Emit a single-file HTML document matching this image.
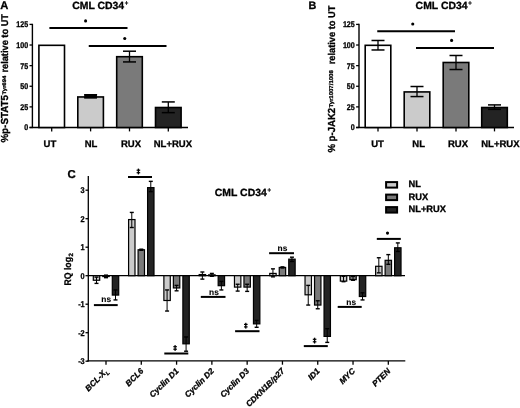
<!DOCTYPE html>
<html><head><meta charset="utf-8"><style>
html,body{margin:0;padding:0;background:#fff;}
svg{display:block;will-change:transform;}
text{font-family:"Liberation Sans", sans-serif;fill:#000;stroke:#000;stroke-width:0.3px;text-rendering:geometricPrecision;}
</style></head><body>
<svg width="520" height="408" viewBox="0 0 520 408">
<rect width="520" height="408" fill="#fff"/>
<line x1="32.40" y1="23.80" x2="32.40" y2="128.10" stroke="#000" stroke-width="1.4"/>
<line x1="29.50" y1="127.50" x2="32.40" y2="127.50" stroke="#000" stroke-width="1.3"/>
<text transform="translate(28.20,130.37) scale(0.86,1)" font-size="8.3" font-weight="bold" text-anchor="end">0</text>
<line x1="29.50" y1="106.88" x2="32.40" y2="106.88" stroke="#000" stroke-width="1.3"/>
<text transform="translate(28.20,109.75) scale(0.86,1)" font-size="8.3" font-weight="bold" text-anchor="end">25</text>
<line x1="29.50" y1="86.26" x2="32.40" y2="86.26" stroke="#000" stroke-width="1.3"/>
<text transform="translate(28.20,89.13) scale(0.86,1)" font-size="8.3" font-weight="bold" text-anchor="end">50</text>
<line x1="29.50" y1="65.64" x2="32.40" y2="65.64" stroke="#000" stroke-width="1.3"/>
<text transform="translate(28.20,68.51) scale(0.86,1)" font-size="8.3" font-weight="bold" text-anchor="end">75</text>
<line x1="29.50" y1="45.02" x2="32.40" y2="45.02" stroke="#000" stroke-width="1.3"/>
<text transform="translate(28.20,47.89) scale(0.86,1)" font-size="8.3" font-weight="bold" text-anchor="end">100</text>
<line x1="29.50" y1="24.40" x2="32.40" y2="24.40" stroke="#000" stroke-width="1.3"/>
<text transform="translate(28.20,27.27) scale(0.86,1)" font-size="8.3" font-weight="bold" text-anchor="end">125</text>
<line x1="29.50" y1="127.50" x2="188.00" y2="127.50" stroke="#000" stroke-width="1.4"/>
<rect x="38.90" y="45.32" width="25.60" height="82.18" fill="#fff" stroke="#000" stroke-width="1.6"/>
<line x1="51.70" y1="127.50" x2="51.70" y2="131.40" stroke="#000" stroke-width="1.3"/>
<text x="49.90" y="146.50" font-size="9.5" font-weight="bold" text-anchor="middle" >UT</text>
<rect x="77.80" y="96.95" width="25.60" height="30.55" fill="#cbcbcb" stroke="#000" stroke-width="1.6"/>
<line x1="90.60" y1="127.50" x2="90.60" y2="131.40" stroke="#000" stroke-width="1.3"/>
<text x="91.00" y="146.50" font-size="9.5" font-weight="bold" text-anchor="middle" >NL</text>
<rect x="116.70" y="56.70" width="25.60" height="70.80" fill="#7a7a7a" stroke="#000" stroke-width="1.6"/>
<line x1="129.50" y1="127.50" x2="129.50" y2="131.40" stroke="#000" stroke-width="1.3"/>
<text x="131.00" y="146.50" font-size="9.5" font-weight="bold" text-anchor="middle" >RUX</text>
<rect x="155.50" y="107.51" width="25.60" height="19.99" fill="#232323" stroke="#000" stroke-width="1.6"/>
<line x1="168.30" y1="127.50" x2="168.30" y2="131.40" stroke="#000" stroke-width="1.3"/>
<text x="172.90" y="146.50" font-size="9.5" font-weight="bold" text-anchor="middle" >NL+RUX</text>
<line x1="90.60" y1="94.76" x2="90.60" y2="97.56" stroke="#000" stroke-width="1.3"/>
<line x1="84.10" y1="94.76" x2="97.10" y2="94.76" stroke="#000" stroke-width="1.5"/>
<line x1="84.10" y1="97.56" x2="97.10" y2="97.56" stroke="#000" stroke-width="1.5"/>
<line x1="129.50" y1="51.21" x2="129.50" y2="61.93" stroke="#000" stroke-width="1.3"/>
<line x1="123.00" y1="51.21" x2="136.00" y2="51.21" stroke="#000" stroke-width="1.5"/>
<line x1="123.00" y1="61.93" x2="136.00" y2="61.93" stroke="#000" stroke-width="1.5"/>
<line x1="168.30" y1="101.93" x2="168.30" y2="112.65" stroke="#000" stroke-width="1.3"/>
<line x1="161.80" y1="101.93" x2="174.80" y2="101.93" stroke="#000" stroke-width="1.5"/>
<line x1="161.80" y1="112.65" x2="174.80" y2="112.65" stroke="#000" stroke-width="1.5"/>
<line x1="49.40" y1="28.00" x2="127.50" y2="28.00" stroke="#000" stroke-width="2.0"/>
<circle cx="85.6" cy="20.9" r="1.55" fill="#000"/>
<line x1="88.75" y1="46.00" x2="166.50" y2="46.00" stroke="#000" stroke-width="2.0"/>
<circle cx="124.75" cy="38.5" r="1.55" fill="#000"/>
<rect x="84.30" y="94.90" width="12.60" height="3.60" fill="#000" stroke="#000" stroke-width="0"/>
<line x1="359.00" y1="23.80" x2="359.00" y2="128.10" stroke="#000" stroke-width="1.4"/>
<line x1="356.10" y1="127.50" x2="359.00" y2="127.50" stroke="#000" stroke-width="1.3"/>
<text transform="translate(354.80,130.37) scale(0.86,1)" font-size="8.3" font-weight="bold" text-anchor="end">0</text>
<line x1="356.10" y1="106.88" x2="359.00" y2="106.88" stroke="#000" stroke-width="1.3"/>
<text transform="translate(354.80,109.75) scale(0.86,1)" font-size="8.3" font-weight="bold" text-anchor="end">25</text>
<line x1="356.10" y1="86.26" x2="359.00" y2="86.26" stroke="#000" stroke-width="1.3"/>
<text transform="translate(354.80,89.13) scale(0.86,1)" font-size="8.3" font-weight="bold" text-anchor="end">50</text>
<line x1="356.10" y1="65.64" x2="359.00" y2="65.64" stroke="#000" stroke-width="1.3"/>
<text transform="translate(354.80,68.51) scale(0.86,1)" font-size="8.3" font-weight="bold" text-anchor="end">75</text>
<line x1="356.10" y1="45.02" x2="359.00" y2="45.02" stroke="#000" stroke-width="1.3"/>
<text transform="translate(354.80,47.89) scale(0.86,1)" font-size="8.3" font-weight="bold" text-anchor="end">100</text>
<line x1="356.10" y1="24.40" x2="359.00" y2="24.40" stroke="#000" stroke-width="1.3"/>
<text transform="translate(354.80,27.27) scale(0.86,1)" font-size="8.3" font-weight="bold" text-anchor="end">125</text>
<line x1="356.10" y1="127.50" x2="514.00" y2="127.50" stroke="#000" stroke-width="1.4"/>
<rect x="365.20" y="45.32" width="25.60" height="82.18" fill="#fff" stroke="#000" stroke-width="1.6"/>
<line x1="378.00" y1="127.50" x2="378.00" y2="131.40" stroke="#000" stroke-width="1.3"/>
<text x="377.50" y="146.50" font-size="9.5" font-weight="bold" text-anchor="middle" >UT</text>
<rect x="404.20" y="91.92" width="25.60" height="35.58" fill="#cbcbcb" stroke="#000" stroke-width="1.6"/>
<line x1="417.00" y1="127.50" x2="417.00" y2="131.40" stroke="#000" stroke-width="1.3"/>
<text x="418.70" y="146.50" font-size="9.5" font-weight="bold" text-anchor="middle" >NL</text>
<rect x="443.20" y="62.48" width="25.60" height="65.02" fill="#7a7a7a" stroke="#000" stroke-width="1.6"/>
<line x1="456.00" y1="127.50" x2="456.00" y2="131.40" stroke="#000" stroke-width="1.3"/>
<text x="458.00" y="146.50" font-size="9.5" font-weight="bold" text-anchor="middle" >RUX</text>
<rect x="481.70" y="107.51" width="25.60" height="19.99" fill="#232323" stroke="#000" stroke-width="1.6"/>
<line x1="494.50" y1="127.50" x2="494.50" y2="131.40" stroke="#000" stroke-width="1.3"/>
<text x="500.40" y="146.50" font-size="9.5" font-weight="bold" text-anchor="middle" >NL+RUX</text>
<line x1="378.00" y1="40.48" x2="378.00" y2="49.97" stroke="#000" stroke-width="1.3"/>
<line x1="371.50" y1="40.48" x2="384.50" y2="40.48" stroke="#000" stroke-width="1.5"/>
<line x1="371.50" y1="49.97" x2="384.50" y2="49.97" stroke="#000" stroke-width="1.5"/>
<line x1="417.00" y1="86.51" x2="417.00" y2="96.57" stroke="#000" stroke-width="1.3"/>
<line x1="410.50" y1="86.51" x2="423.50" y2="86.51" stroke="#000" stroke-width="1.5"/>
<line x1="410.50" y1="96.57" x2="423.50" y2="96.57" stroke="#000" stroke-width="1.5"/>
<line x1="456.00" y1="55.49" x2="456.00" y2="69.52" stroke="#000" stroke-width="1.3"/>
<line x1="449.50" y1="55.49" x2="462.50" y2="55.49" stroke="#000" stroke-width="1.5"/>
<line x1="449.50" y1="69.52" x2="462.50" y2="69.52" stroke="#000" stroke-width="1.5"/>
<line x1="494.50" y1="104.90" x2="494.50" y2="109.35" stroke="#000" stroke-width="1.3"/>
<line x1="488.00" y1="104.90" x2="501.00" y2="104.90" stroke="#000" stroke-width="1.5"/>
<line x1="488.00" y1="109.35" x2="501.00" y2="109.35" stroke="#000" stroke-width="1.5"/>
<line x1="377.25" y1="31.25" x2="455.00" y2="31.25" stroke="#000" stroke-width="2.0"/>
<circle cx="412.75" cy="24.0" r="1.55" fill="#000"/>
<line x1="416.00" y1="48.00" x2="494.00" y2="48.00" stroke="#000" stroke-width="2.0"/>
<circle cx="451.6" cy="40.4" r="1.55" fill="#000"/>
<text x="0.30" y="9.10" font-size="11.2" font-weight="bold" text-anchor="start" >A</text>
<text x="308.60" y="9.30" font-size="10.8" font-weight="bold" text-anchor="start" >B</text>
<text x="67.40" y="178.40" font-size="11.4" font-weight="bold" text-anchor="start" >C</text>
<text x="72.2" y="9.0" font-size="10.4" font-weight="bold" textLength="52" lengthAdjust="spacingAndGlyphs">CML CD34</text>
<text x="124.80000000000001" y="5.4" font-size="6" font-weight="bold">+</text>
<text x="415.6" y="9.0" font-size="10.4" font-weight="bold" textLength="52" lengthAdjust="spacingAndGlyphs">CML CD34</text>
<text x="468.20000000000005" y="5.4" font-size="6" font-weight="bold">+</text>
<text x="214.8" y="195.9" font-size="10.4" font-weight="bold" textLength="52" lengthAdjust="spacingAndGlyphs">CML CD34</text>
<text x="267.40000000000003" y="192.3" font-size="6" font-weight="bold">+</text>
<text transform="translate(8.30,142.60) rotate(-90)" font-size="10.2" font-weight="bold" textLength="47.6" lengthAdjust="spacingAndGlyphs">%p-STAT5</text>
<text transform="translate(5.70,94.60) rotate(-90)" font-size="5.2" font-weight="bold" textLength="19.0" lengthAdjust="spacingAndGlyphs">Tyr694</text>
<text transform="translate(8.30,72.60) rotate(-90)" font-size="9.8" font-weight="bold" textLength="58.6" lengthAdjust="spacingAndGlyphs">relative to UT</text>
<text transform="translate(335.30,152.60) rotate(-90)" font-size="10.2" font-weight="bold" textLength="44.8" lengthAdjust="spacingAndGlyphs">% p-JAK2</text>
<text transform="translate(332.80,107.60) rotate(-90)" font-size="5.6" font-weight="bold" textLength="37.4" lengthAdjust="spacingAndGlyphs">Tyr1007/1008</text>
<text transform="translate(335.30,64.30) rotate(-90)" font-size="9.8" font-weight="bold" textLength="58.6" lengthAdjust="spacingAndGlyphs">relative to UT</text>
<line x1="88.30" y1="175.90" x2="88.30" y2="361.40" stroke="#000" stroke-width="1.3"/>
<line x1="85.50" y1="190.20" x2="88.30" y2="190.20" stroke="#000" stroke-width="1.3"/>
<text transform="translate(84.70,193.11) scale(0.88,1)" font-size="8.4" font-weight="bold" text-anchor="end">3</text>
<line x1="85.50" y1="218.70" x2="88.30" y2="218.70" stroke="#000" stroke-width="1.3"/>
<text transform="translate(84.70,221.61) scale(0.88,1)" font-size="8.4" font-weight="bold" text-anchor="end">2</text>
<line x1="85.50" y1="247.20" x2="88.30" y2="247.20" stroke="#000" stroke-width="1.3"/>
<text transform="translate(84.70,250.11) scale(0.88,1)" font-size="8.4" font-weight="bold" text-anchor="end">1</text>
<line x1="85.50" y1="275.70" x2="88.30" y2="275.70" stroke="#000" stroke-width="1.3"/>
<text transform="translate(84.70,278.61) scale(0.88,1)" font-size="8.4" font-weight="bold" text-anchor="end">0</text>
<line x1="85.50" y1="304.20" x2="88.30" y2="304.20" stroke="#000" stroke-width="1.3"/>
<text transform="translate(84.70,307.11) scale(0.88,1)" font-size="8.4" font-weight="bold" text-anchor="end">-1</text>
<line x1="85.50" y1="332.70" x2="88.30" y2="332.70" stroke="#000" stroke-width="1.3"/>
<text transform="translate(84.70,335.61) scale(0.88,1)" font-size="8.4" font-weight="bold" text-anchor="end">-2</text>
<line x1="85.50" y1="361.20" x2="88.30" y2="361.20" stroke="#000" stroke-width="1.3"/>
<text transform="translate(84.70,364.11) scale(0.88,1)" font-size="8.4" font-weight="bold" text-anchor="end">-3</text>
<line x1="88.30" y1="275.70" x2="405.00" y2="275.70" stroke="#000" stroke-width="1.3"/>
<line x1="87.30" y1="360.90" x2="405.30" y2="360.90" stroke="#000" stroke-width="1.4"/>
<text transform="translate(70.8,285.6) rotate(-90)" font-size="9.6" font-weight="bold" textLength="28.6" lengthAdjust="spacingAndGlyphs">RQ log</text>
<text transform="translate(72.9,256.6) rotate(-90)" font-size="6.2" font-weight="bold">2</text>
<line x1="106.00" y1="360.90" x2="106.00" y2="364.70" stroke="#000" stroke-width="1.3"/>
<text transform="translate(108.60,371.60) rotate(-45)" font-size="8.2" font-weight="bold" font-style="italic" text-anchor="end">BCL-X<tspan font-size="5.5" dy="2">L</tspan></text>
<line x1="141.29" y1="360.90" x2="141.29" y2="364.70" stroke="#000" stroke-width="1.3"/>
<text transform="translate(143.89,371.60) rotate(-45)" font-size="8.2" font-weight="bold" font-style="italic" text-anchor="end">BCL6</text>
<line x1="176.58" y1="360.90" x2="176.58" y2="364.70" stroke="#000" stroke-width="1.3"/>
<text transform="translate(179.18,371.60) rotate(-45)" font-size="8.2" font-weight="bold" font-style="italic" text-anchor="end">Cyclin D1</text>
<line x1="211.87" y1="360.90" x2="211.87" y2="364.70" stroke="#000" stroke-width="1.3"/>
<text transform="translate(214.47,371.60) rotate(-45)" font-size="8.2" font-weight="bold" font-style="italic" text-anchor="end">Cyclin D2</text>
<line x1="247.16" y1="360.90" x2="247.16" y2="364.70" stroke="#000" stroke-width="1.3"/>
<text transform="translate(249.76,371.60) rotate(-45)" font-size="8.2" font-weight="bold" font-style="italic" text-anchor="end">Cyclin D3</text>
<line x1="282.45" y1="360.90" x2="282.45" y2="364.70" stroke="#000" stroke-width="1.3"/>
<text transform="translate(285.05,371.60) rotate(-45)" font-size="8.2" font-weight="bold" font-style="italic" text-anchor="end">CDKN1B/p27</text>
<line x1="317.74" y1="360.90" x2="317.74" y2="364.70" stroke="#000" stroke-width="1.3"/>
<text transform="translate(320.34,371.60) rotate(-45)" font-size="8.2" font-weight="bold" font-style="italic" text-anchor="end">ID1</text>
<line x1="353.03" y1="360.90" x2="353.03" y2="364.70" stroke="#000" stroke-width="1.3"/>
<text transform="translate(355.63,371.60) rotate(-45)" font-size="8.2" font-weight="bold" font-style="italic" text-anchor="end">MYC</text>
<line x1="388.32" y1="360.90" x2="388.32" y2="364.70" stroke="#000" stroke-width="1.3"/>
<text transform="translate(390.92,371.60) rotate(-45)" font-size="8.2" font-weight="bold" font-style="italic" text-anchor="end">PTEN</text>
<rect x="93.30" y="275.70" width="6.40" height="4.56" fill="#cbcbcb" stroke="#000" stroke-width="1.2"/>
<line x1="96.50" y1="277.12" x2="96.50" y2="283.39" stroke="#000" stroke-width="1.0"/>
<line x1="94.50" y1="277.12" x2="98.50" y2="277.12" stroke="#000" stroke-width="1.4"/>
<line x1="94.50" y1="283.39" x2="98.50" y2="283.39" stroke="#000" stroke-width="1.4"/>
<rect x="102.80" y="275.70" width="6.40" height="0.86" fill="#7a7a7a" stroke="#000" stroke-width="1.2"/>
<line x1="106.00" y1="275.13" x2="106.00" y2="277.69" stroke="#000" stroke-width="1.0"/>
<line x1="104.00" y1="275.13" x2="108.00" y2="275.13" stroke="#000" stroke-width="1.4"/>
<line x1="104.00" y1="277.69" x2="108.00" y2="277.69" stroke="#000" stroke-width="1.4"/>
<rect x="112.30" y="275.70" width="6.40" height="19.38" fill="#232323" stroke="#000" stroke-width="1.2"/>
<line x1="115.50" y1="289.95" x2="115.50" y2="299.93" stroke="#000" stroke-width="1.0"/>
<line x1="113.50" y1="289.95" x2="117.50" y2="289.95" stroke="#000" stroke-width="1.4"/>
<line x1="113.50" y1="299.93" x2="117.50" y2="299.93" stroke="#000" stroke-width="1.4"/>
<rect x="128.59" y="219.56" width="6.40" height="56.14" fill="#cbcbcb" stroke="#000" stroke-width="1.2"/>
<line x1="131.79" y1="212.43" x2="131.79" y2="227.53" stroke="#000" stroke-width="1.0"/>
<line x1="129.79" y1="212.43" x2="133.79" y2="212.43" stroke="#000" stroke-width="1.4"/>
<line x1="129.79" y1="227.53" x2="133.79" y2="227.53" stroke="#000" stroke-width="1.4"/>
<rect x="138.09" y="249.76" width="6.40" height="25.94" fill="#7a7a7a" stroke="#000" stroke-width="1.2"/>
<line x1="141.29" y1="249.19" x2="141.29" y2="250.33" stroke="#000" stroke-width="1.0"/>
<line x1="139.29" y1="249.19" x2="143.29" y2="249.19" stroke="#000" stroke-width="1.4"/>
<line x1="139.29" y1="250.33" x2="143.29" y2="250.33" stroke="#000" stroke-width="1.4"/>
<rect x="147.59" y="187.63" width="6.40" height="88.06" fill="#232323" stroke="#000" stroke-width="1.2"/>
<line x1="150.79" y1="181.36" x2="150.79" y2="191.62" stroke="#000" stroke-width="1.0"/>
<line x1="148.79" y1="181.36" x2="152.79" y2="181.36" stroke="#000" stroke-width="1.4"/>
<line x1="148.79" y1="191.62" x2="152.79" y2="191.62" stroke="#000" stroke-width="1.4"/>
<rect x="163.88" y="275.70" width="6.40" height="24.80" fill="#cbcbcb" stroke="#000" stroke-width="1.2"/>
<line x1="167.08" y1="289.95" x2="167.08" y2="311.04" stroke="#000" stroke-width="1.0"/>
<line x1="165.08" y1="289.95" x2="169.08" y2="289.95" stroke="#000" stroke-width="1.4"/>
<line x1="165.08" y1="311.04" x2="169.08" y2="311.04" stroke="#000" stroke-width="1.4"/>
<rect x="173.38" y="275.70" width="6.40" height="12.25" fill="#7a7a7a" stroke="#000" stroke-width="1.2"/>
<line x1="176.58" y1="285.39" x2="176.58" y2="290.81" stroke="#000" stroke-width="1.0"/>
<line x1="174.58" y1="285.39" x2="178.58" y2="285.39" stroke="#000" stroke-width="1.4"/>
<line x1="174.58" y1="290.81" x2="178.58" y2="290.81" stroke="#000" stroke-width="1.4"/>
<rect x="182.88" y="275.70" width="6.40" height="68.12" fill="#232323" stroke="#000" stroke-width="1.2"/>
<line x1="186.08" y1="336.97" x2="186.08" y2="351.22" stroke="#000" stroke-width="1.0"/>
<line x1="184.08" y1="336.97" x2="188.08" y2="336.97" stroke="#000" stroke-width="1.4"/>
<line x1="184.08" y1="351.22" x2="188.08" y2="351.22" stroke="#000" stroke-width="1.4"/>
<rect x="199.17" y="274.56" width="6.40" height="1.14" fill="#cbcbcb" stroke="#000" stroke-width="1.2"/>
<line x1="202.37" y1="272.00" x2="202.37" y2="279.12" stroke="#000" stroke-width="1.0"/>
<line x1="200.37" y1="272.00" x2="204.37" y2="272.00" stroke="#000" stroke-width="1.4"/>
<line x1="200.37" y1="279.12" x2="204.37" y2="279.12" stroke="#000" stroke-width="1.4"/>
<rect x="208.67" y="274.84" width="6.40" height="0.86" fill="#7a7a7a" stroke="#000" stroke-width="1.2"/>
<line x1="211.87" y1="273.42" x2="211.87" y2="276.27" stroke="#000" stroke-width="1.0"/>
<line x1="209.87" y1="273.42" x2="213.87" y2="273.42" stroke="#000" stroke-width="1.4"/>
<line x1="209.87" y1="276.27" x2="213.87" y2="276.27" stroke="#000" stroke-width="1.4"/>
<rect x="218.17" y="275.70" width="6.40" height="9.98" fill="#232323" stroke="#000" stroke-width="1.2"/>
<line x1="221.37" y1="281.40" x2="221.37" y2="289.95" stroke="#000" stroke-width="1.0"/>
<line x1="219.37" y1="281.40" x2="223.37" y2="281.40" stroke="#000" stroke-width="1.4"/>
<line x1="219.37" y1="289.95" x2="223.37" y2="289.95" stroke="#000" stroke-width="1.4"/>
<rect x="234.46" y="275.70" width="6.40" height="11.40" fill="#cbcbcb" stroke="#000" stroke-width="1.2"/>
<line x1="237.66" y1="284.25" x2="237.66" y2="291.09" stroke="#000" stroke-width="1.0"/>
<line x1="235.66" y1="284.25" x2="239.66" y2="284.25" stroke="#000" stroke-width="1.4"/>
<line x1="235.66" y1="291.09" x2="239.66" y2="291.09" stroke="#000" stroke-width="1.4"/>
<rect x="243.96" y="275.70" width="6.40" height="11.40" fill="#7a7a7a" stroke="#000" stroke-width="1.2"/>
<line x1="247.16" y1="284.25" x2="247.16" y2="291.38" stroke="#000" stroke-width="1.0"/>
<line x1="245.16" y1="284.25" x2="249.16" y2="284.25" stroke="#000" stroke-width="1.4"/>
<line x1="245.16" y1="291.38" x2="249.16" y2="291.38" stroke="#000" stroke-width="1.4"/>
<rect x="253.46" y="275.70" width="6.40" height="48.17" fill="#232323" stroke="#000" stroke-width="1.2"/>
<line x1="256.66" y1="320.44" x2="256.66" y2="327.28" stroke="#000" stroke-width="1.0"/>
<line x1="254.66" y1="320.44" x2="258.66" y2="320.44" stroke="#000" stroke-width="1.4"/>
<line x1="254.66" y1="327.28" x2="258.66" y2="327.28" stroke="#000" stroke-width="1.4"/>
<rect x="269.75" y="273.42" width="6.40" height="2.28" fill="#cbcbcb" stroke="#000" stroke-width="1.2"/>
<line x1="272.95" y1="268.86" x2="272.95" y2="276.84" stroke="#000" stroke-width="1.0"/>
<line x1="270.95" y1="268.86" x2="274.95" y2="268.86" stroke="#000" stroke-width="1.4"/>
<line x1="270.95" y1="276.84" x2="274.95" y2="276.84" stroke="#000" stroke-width="1.4"/>
<rect x="279.25" y="267.44" width="6.40" height="8.26" fill="#7a7a7a" stroke="#000" stroke-width="1.2"/>
<line x1="282.45" y1="266.87" x2="282.45" y2="268.00" stroke="#000" stroke-width="1.0"/>
<line x1="280.45" y1="266.87" x2="284.45" y2="266.87" stroke="#000" stroke-width="1.4"/>
<line x1="280.45" y1="268.00" x2="284.45" y2="268.00" stroke="#000" stroke-width="1.4"/>
<rect x="288.75" y="259.17" width="6.40" height="16.53" fill="#232323" stroke="#000" stroke-width="1.2"/>
<line x1="291.95" y1="257.18" x2="291.95" y2="261.45" stroke="#000" stroke-width="1.0"/>
<line x1="289.95" y1="257.18" x2="293.95" y2="257.18" stroke="#000" stroke-width="1.4"/>
<line x1="289.95" y1="261.45" x2="293.95" y2="261.45" stroke="#000" stroke-width="1.4"/>
<rect x="305.04" y="275.70" width="6.40" height="19.10" fill="#cbcbcb" stroke="#000" stroke-width="1.2"/>
<line x1="308.24" y1="285.39" x2="308.24" y2="305.06" stroke="#000" stroke-width="1.0"/>
<line x1="306.24" y1="285.39" x2="310.24" y2="285.39" stroke="#000" stroke-width="1.4"/>
<line x1="306.24" y1="305.06" x2="310.24" y2="305.06" stroke="#000" stroke-width="1.4"/>
<rect x="314.54" y="275.70" width="6.40" height="29.36" fill="#7a7a7a" stroke="#000" stroke-width="1.2"/>
<line x1="317.74" y1="300.78" x2="317.74" y2="308.76" stroke="#000" stroke-width="1.0"/>
<line x1="315.74" y1="300.78" x2="319.74" y2="300.78" stroke="#000" stroke-width="1.4"/>
<line x1="315.74" y1="308.76" x2="319.74" y2="308.76" stroke="#000" stroke-width="1.4"/>
<rect x="324.04" y="275.70" width="6.40" height="60.70" fill="#232323" stroke="#000" stroke-width="1.2"/>
<line x1="327.24" y1="328.71" x2="327.24" y2="342.39" stroke="#000" stroke-width="1.0"/>
<line x1="325.24" y1="328.71" x2="329.24" y2="328.71" stroke="#000" stroke-width="1.4"/>
<line x1="325.24" y1="342.39" x2="329.24" y2="342.39" stroke="#000" stroke-width="1.4"/>
<rect x="340.33" y="275.70" width="6.40" height="5.42" fill="#cbcbcb" stroke="#000" stroke-width="1.2"/>
<line x1="343.53" y1="276.27" x2="343.53" y2="281.69" stroke="#000" stroke-width="1.0"/>
<line x1="341.53" y1="276.27" x2="345.53" y2="276.27" stroke="#000" stroke-width="1.4"/>
<line x1="341.53" y1="281.69" x2="345.53" y2="281.69" stroke="#000" stroke-width="1.4"/>
<rect x="349.83" y="275.70" width="6.40" height="3.99" fill="#7a7a7a" stroke="#000" stroke-width="1.2"/>
<line x1="353.03" y1="276.27" x2="353.03" y2="280.26" stroke="#000" stroke-width="1.0"/>
<line x1="351.03" y1="276.27" x2="355.03" y2="276.27" stroke="#000" stroke-width="1.4"/>
<line x1="351.03" y1="280.26" x2="355.03" y2="280.26" stroke="#000" stroke-width="1.4"/>
<rect x="359.33" y="275.70" width="6.40" height="20.81" fill="#232323" stroke="#000" stroke-width="1.2"/>
<line x1="362.53" y1="292.80" x2="362.53" y2="299.93" stroke="#000" stroke-width="1.0"/>
<line x1="360.53" y1="292.80" x2="364.53" y2="292.80" stroke="#000" stroke-width="1.4"/>
<line x1="360.53" y1="299.93" x2="364.53" y2="299.93" stroke="#000" stroke-width="1.4"/>
<rect x="375.62" y="266.29" width="6.40" height="9.41" fill="#cbcbcb" stroke="#000" stroke-width="1.2"/>
<line x1="378.82" y1="257.75" x2="378.82" y2="272.85" stroke="#000" stroke-width="1.0"/>
<line x1="376.82" y1="257.75" x2="380.82" y2="257.75" stroke="#000" stroke-width="1.4"/>
<line x1="376.82" y1="272.85" x2="380.82" y2="272.85" stroke="#000" stroke-width="1.4"/>
<rect x="385.12" y="260.31" width="6.40" height="15.39" fill="#7a7a7a" stroke="#000" stroke-width="1.2"/>
<line x1="388.32" y1="254.61" x2="388.32" y2="264.30" stroke="#000" stroke-width="1.0"/>
<line x1="386.32" y1="254.61" x2="390.32" y2="254.61" stroke="#000" stroke-width="1.4"/>
<line x1="386.32" y1="264.30" x2="390.32" y2="264.30" stroke="#000" stroke-width="1.4"/>
<rect x="394.62" y="247.77" width="6.40" height="27.93" fill="#232323" stroke="#000" stroke-width="1.2"/>
<line x1="397.82" y1="242.92" x2="397.82" y2="251.47" stroke="#000" stroke-width="1.0"/>
<line x1="395.82" y1="242.92" x2="399.82" y2="242.92" stroke="#000" stroke-width="1.4"/>
<line x1="395.82" y1="251.47" x2="399.82" y2="251.47" stroke="#000" stroke-width="1.4"/>
<line x1="93.90" y1="305.10" x2="117.70" y2="305.10" stroke="#000" stroke-width="2.0"/>
<text x="106.2" y="302.30" font-size="8.4" font-weight="bold" text-anchor="middle" style="stroke-width:0.1px">ns</text>
<line x1="128.00" y1="177.00" x2="152.00" y2="177.00" stroke="#000" stroke-width="2.0"/>
<rect x="137.75" y="168.60" width="1.3" height="5.80" fill="#000"/>
<rect x="136.60" y="169.60" width="3.6" height="1.2" fill="#000"/>
<rect x="136.60" y="172.10" width="3.6" height="1.2" fill="#000"/>
<line x1="164.30" y1="353.50" x2="188.30" y2="353.50" stroke="#000" stroke-width="2.0"/>
<rect x="174.45" y="345.10" width="1.3" height="5.80" fill="#000"/>
<rect x="173.30" y="346.10" width="3.6" height="1.2" fill="#000"/>
<rect x="173.30" y="348.60" width="3.6" height="1.2" fill="#000"/>
<line x1="200.80" y1="296.90" x2="225.50" y2="296.90" stroke="#000" stroke-width="2.0"/>
<text x="214" y="295.10" font-size="8.4" font-weight="bold" text-anchor="middle" style="stroke-width:0.1px">ns</text>
<line x1="235.10" y1="331.20" x2="259.50" y2="331.20" stroke="#000" stroke-width="2.0"/>
<rect x="245.15" y="322.80" width="1.3" height="5.80" fill="#000"/>
<rect x="244.00" y="323.80" width="3.6" height="1.2" fill="#000"/>
<rect x="244.00" y="326.30" width="3.6" height="1.2" fill="#000"/>
<line x1="269.10" y1="253.20" x2="294.00" y2="253.20" stroke="#000" stroke-width="2.0"/>
<text x="282.5" y="251.40" font-size="8.4" font-weight="bold" text-anchor="middle" style="stroke-width:0.1px">ns</text>
<line x1="303.80" y1="346.10" x2="327.80" y2="346.10" stroke="#000" stroke-width="2.0"/>
<rect x="313.95" y="337.70" width="1.3" height="5.80" fill="#000"/>
<rect x="312.80" y="338.70" width="3.6" height="1.2" fill="#000"/>
<rect x="312.80" y="341.20" width="3.6" height="1.2" fill="#000"/>
<line x1="337.70" y1="306.90" x2="361.70" y2="306.90" stroke="#000" stroke-width="2.0"/>
<text x="351.2" y="305.00" font-size="8.4" font-weight="bold" text-anchor="middle" style="stroke-width:0.1px">ns</text>
<line x1="376.80" y1="238.90" x2="400.80" y2="238.90" stroke="#000" stroke-width="2.0"/>
<circle cx="387.5" cy="233.1" r="1.55" fill="#000"/>
<rect x="386.10" y="182.10" width="11.00" height="5.50" fill="#cbcbcb" stroke="#000" stroke-width="2.0"/>
<text x="408.50" y="187.20" font-size="9.3" font-weight="bold" text-anchor="start" >NL</text>
<rect x="386.10" y="194.60" width="11.00" height="5.50" fill="#7a7a7a" stroke="#000" stroke-width="2.0"/>
<text x="408.50" y="199.70" font-size="9.3" font-weight="bold" text-anchor="start" >RUX</text>
<rect x="386.10" y="207.10" width="11.00" height="5.50" fill="#232323" stroke="#000" stroke-width="2.0"/>
<text x="408.50" y="212.20" font-size="9.3" font-weight="bold" text-anchor="start" >NL+RUX</text>
</svg>
</body></html>
